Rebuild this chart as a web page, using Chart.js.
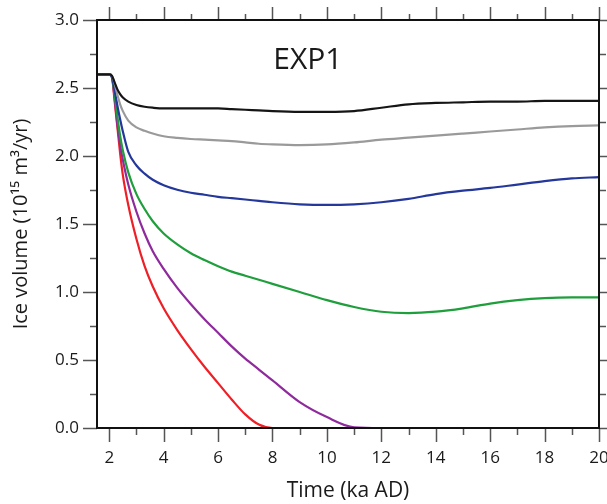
<!DOCTYPE html>
<html>
<head>
  <title>EXP1 ice volume</title>
  <script src="https://cdn.jsdelivr.net/npm/chart.js"></script>
  <style>
    html, body { margin: 0; padding: 0; background: #fff; }
    #wrap { width: 607px; height: 504px; }
  </style>
</head>
<body>
  <div id="wrap"><canvas id="iceChart" width="607" height="504"></canvas></div>

  <script>
    // time axis (ka AD), shared by all runs
    const times = [1.55, 2.0, 2.1, 2.2, 2.3, 2.4, 2.5, 2.7, 3.0, 3.3, 3.6, 4.0, 4.5, 5.0, 5.5, 6.0, 6.5, 7.0, 7.5, 8.0, 9.0, 10, 11, 12, 13, 14, 15, 16, 17, 18, 19, 20];

    // ice volume (10^15 m^3/yr)
    const volBlack  = [2.60, 2.60, 2.59, 2.54, 2.49, 2.455, 2.43, 2.40, 2.375, 2.362, 2.355, 2.35, 2.35, 2.35, 2.35, 2.35, 2.345, 2.34, 2.335, 2.33, 2.325, 2.325, 2.33, 2.355, 2.38, 2.39, 2.395, 2.40, 2.40, 2.405, 2.405, 2.405];
    const volGray   = [2.60, 2.60, 2.59, 2.53, 2.45, 2.38, 2.33, 2.26, 2.21, 2.185, 2.165, 2.145, 2.133, 2.125, 2.12, 2.115, 2.11, 2.10, 2.09, 2.085, 2.08, 2.085, 2.10, 2.12, 2.135, 2.15, 2.165, 2.18, 2.195, 2.21, 2.22, 2.225];
    const volBlue   = [2.60, 2.60, 2.58, 2.48, 2.37, 2.27, 2.18, 2.03, 1.93, 1.87, 1.825, 1.785, 1.752, 1.73, 1.715, 1.70, 1.69, 1.68, 1.67, 1.66, 1.645, 1.64, 1.645, 1.66, 1.685, 1.72, 1.745, 1.765, 1.79, 1.815, 1.835, 1.845];
    const volGreen  = [2.60, 2.60, 2.58, 2.45, 2.29, 2.15, 2.04, 1.88, 1.72, 1.61, 1.52, 1.43, 1.35, 1.285, 1.235, 1.19, 1.15, 1.12, 1.09, 1.06, 1.00, 0.94, 0.89, 0.855, 0.845, 0.855, 0.88, 0.915, 0.94, 0.955, 0.96, 0.96];
    const volPurple = [2.60, 2.60, 2.58, 2.42, 2.23, 2.08, 1.97, 1.79, 1.59, 1.43, 1.30, 1.17, 1.03, 0.91, 0.80, 0.70, 0.60, 0.51, 0.43, 0.35, 0.19, 0.08, 0.005, 0, 0, 0, 0, 0, 0, 0, 0, 0];
    const volRed    = [2.60, 2.60, 2.58, 2.40, 2.21, 2.02, 1.86, 1.64, 1.39, 1.19, 1.04, 0.88, 0.72, 0.58, 0.45, 0.33, 0.21, 0.10, 0.025, 0, 0, 0, 0, 0, 0, 0, 0, 0, 0, 0, 0, 0];

    const seriesList = [
      { name: 'black',  vals: volBlack,  color: '#151515' },
      { name: 'gray',   vals: volGray,   color: '#9a9a9a' },
      { name: 'blue',   vals: volBlue,   color: '#24379a' },
      { name: 'green',  vals: volGreen,  color: '#1f9e3c' },
      { name: 'purple', vals: volPurple, color: '#8f2a9c' },
      { name: 'red',    vals: volRed,    color: '#ee1f26' }
    ];

    const xMin = 1.55, xMax = 20;
    const yMin = 0, yMax = 3;
    const panelLabel = 'EXP1';

    function toPoints(vals) {
      return times.map((t, i) => ({ x: t, y: vals[i] }));
    }

    // box and outward tick marks on all four sides
    const frameTicks = {
      id: 'frameTicks',
      afterDraw(chart) {
        const ctx = chart.ctx;
        const a = chart.chartArea;
        const xs = chart.scales.x;
        const ys = chart.scales.y;
        ctx.save();
        ctx.strokeStyle = '#555';
        ctx.lineWidth = 1.5;
        ctx.beginPath();
        for (let v = 2; v <= 20; v++) {
          const px = Math.round(xs.getPixelForValue(v)) + 0.5;
          const len = v % 2 === 0 ? 14 : 7;
          ctx.moveTo(px, a.bottom); ctx.lineTo(px, a.bottom + len);
          ctx.moveTo(px, a.top); ctx.lineTo(px, a.top - len + 1);
        }
        for (let k = 0; k <= 12; k++) {
          const v = k * 0.25;
          const py = Math.round(ys.getPixelForValue(v)) + 0.5;
          const len = k % 2 === 0 ? 14 : 7;
          ctx.moveTo(a.left, py); ctx.lineTo(a.left - len, py);
          ctx.moveTo(a.right, py); ctx.lineTo(a.right + len, py);
        }
        ctx.stroke();

        ctx.strokeStyle = '#111';
        ctx.lineWidth = 2;
        ctx.strokeRect(a.left, a.top, a.right - a.left, a.bottom - a.top);

        ctx.fillStyle = '#1a1a1a';
        ctx.font = '30px "Open Sans", sans-serif';
        ctx.textAlign = 'center';
        ctx.textBaseline = 'middle';
        ctx.fillText(panelLabel, xs.getPixelForValue(9.3), ys.getPixelForValue(2.7));
        ctx.restore();
      }
    };

    const ctx = document.getElementById('iceChart').getContext('2d');
    new Chart(ctx, {
      type: 'line',
      data: {
        datasets: seriesList.map(s => ({
          label: s.name,
          data: toPoints(s.vals),
          borderColor: s.color,
          backgroundColor: s.color,
          borderWidth: 2.2,
          pointRadius: 0,
          cubicInterpolationMode: 'monotone',
          fill: false
        }))
      },
      options: {
        responsive: false,
        animation: false,
        layout: { padding: { left: 0, right: 8, top: 20, bottom: 0 } },
        plugins: {
          legend: { display: false },
          tooltip: { enabled: false }
        },
        scales: {
          x: {
            type: 'linear',
            min: xMin,
            max: xMax,
            afterFit(scale) {
              scale.height = 76;
              scale.paddingLeft = 0;
              scale.paddingRight = 0;
            },
            grid: { display: false, drawTicks: false },
            border: { display: false },
            ticks: {
              stepSize: 1,
              includeBounds: false,
              autoSkip: false,
              maxRotation: 0,
              padding: 20,
              color: '#1a1a1a',
              font: { family: '"Open Sans", sans-serif', size: 17 },
              callback: v => (v % 2 === 0 ? String(v) : '')
            },
            title: {
              display: true,
              text: 'Time (ka AD)',
              color: '#1a1a1a',
              font: { family: '"Open Sans", sans-serif', size: 21 },
              padding: { top: 0, bottom: 0 }
            }
          },
          y: {
            type: 'linear',
            min: yMin,
            max: yMax,
            afterFit(scale) {
              scale.width = 97;
              scale.paddingTop = 0;
              scale.paddingBottom = 0;
            },
            grid: { display: false, drawTicks: false },
            border: { display: false },
            ticks: {
              stepSize: 0.25,
              autoSkip: false,
              padding: 18,
              color: '#1a1a1a',
              font: { family: '"Open Sans", sans-serif', size: 17 },
              callback: v => (Math.abs(v * 2 - Math.round(v * 2)) < 1e-6 ? v.toFixed(1) : '')
            },
            title: {
              display: true,
              text: 'Ice volume (10\u00b9\u2075 m\u00b3/yr)',
              color: '#1a1a1a',
              font: { family: '"Open Sans", sans-serif', size: 20 },
              padding: { top: 9, bottom: 0 }
            }
          }
        }
      },
      plugins: [frameTicks]
    });
  </script>
</body>
</html>
